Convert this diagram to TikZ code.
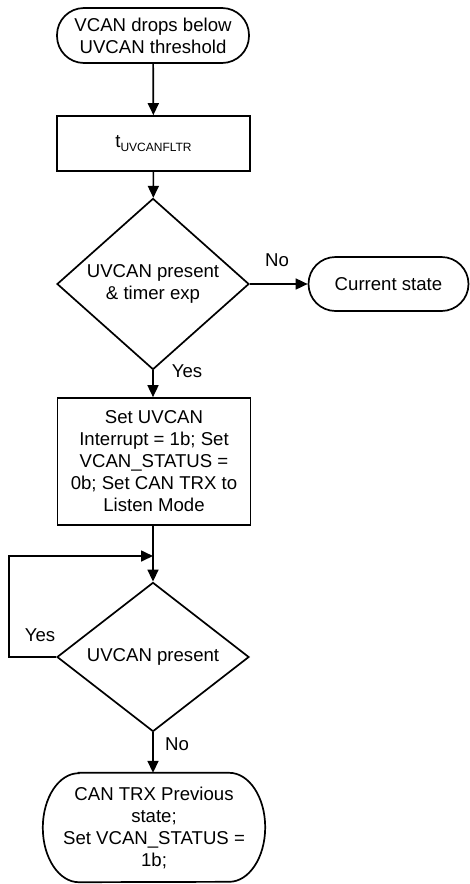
\documentclass[tikz,border=0pt]{standalone}
\usepackage{fontspec}
\setmainfont{Liberation Sans}
\usetikzlibrary{shapes.geometric,arrows.meta}
\begin{document}
\begin{tikzpicture}[x=1pt,y=-1pt,
  every node/.style={font=\fontsize{18.6}{22}\selectfont, inner sep=0pt, align=center},
  base/.style={draw, line width=1.7pt},
  term/.style={base, rectangle, rounded corners=27pt},
  proc/.style={base, rectangle},
  dec/.style={base, diamond, minimum width=192pt, minimum height=132pt},
  conn/.style={line width=1.7pt, -{Triangle[length=12pt,width=11pt]}},
  lbl/.style={}
]
\useasboundingbox (0,0) rectangle (470,884);
\node[term, minimum width=192pt, minimum height=55pt] (start) at (153,35.5) {VCAN drops below\\UVCAN threshold};
\node[proc, minimum width=193pt, minimum height=55pt] (filt) at (153.5,143.5) {t\raisebox{-0.35ex}{\fontsize{12}{12}\selectfont UVCANFLTR}};
\node[dec] (d1) at (153,284) {UVCAN present\\\& timer exp};
\node[term, minimum width=160pt, minimum height=54pt] (cur) at (388.5,284) {Current state};
\node[proc, minimum width=193pt, minimum height=127pt] (set) at (154,461.5) {Set UVCAN\\Interrupt = 1b; Set\\VCAN\_STATUS =\\0b; Set CAN TRX to\\Listen Mode};
\node[dec] (d2) at (153,657) {UVCAN present};
\node[rectangle, minimum width=222pt, minimum height=109pt] (prev) at (154,827.5) {CAN TRX Previous\\state;\\Set VCAN\_STATUS =\\1b;};
\draw[base] ([xshift=36pt]prev.north west) -- ([xshift=-36pt]prev.north east)
  arc[start angle=90, end angle=-90, x radius=36pt, y radius=54.5pt]
  -- ([xshift=36pt]prev.south west)
  arc[start angle=270, end angle=90, x radius=36pt, y radius=54.5pt] -- cycle;
\coordinate (j) at (153,556);
\coordinate (lp) at (9,657);
\draw[conn] (start) -- (filt);
\draw[conn] (filt) -- (d1);
\draw[conn] (d1) -- (cur);
\node[lbl] (no1) at (277,260) {No};
\draw[conn] (d1) -- (d1.south |- set.north);
\node[lbl] (yes1) at (187,371) {Yes};
\draw[conn] (set.south -| d2.north) -- (d2.north);
\draw[conn] (d2.west) -- (lp) |- (j);
\node[lbl] (yes2) at (40,635) {Yes};
\draw[conn] (d2) -- (d2.south |- prev.north);
\node[lbl] (no2) at (177,744) {No};
\end{tikzpicture}
\end{document}
